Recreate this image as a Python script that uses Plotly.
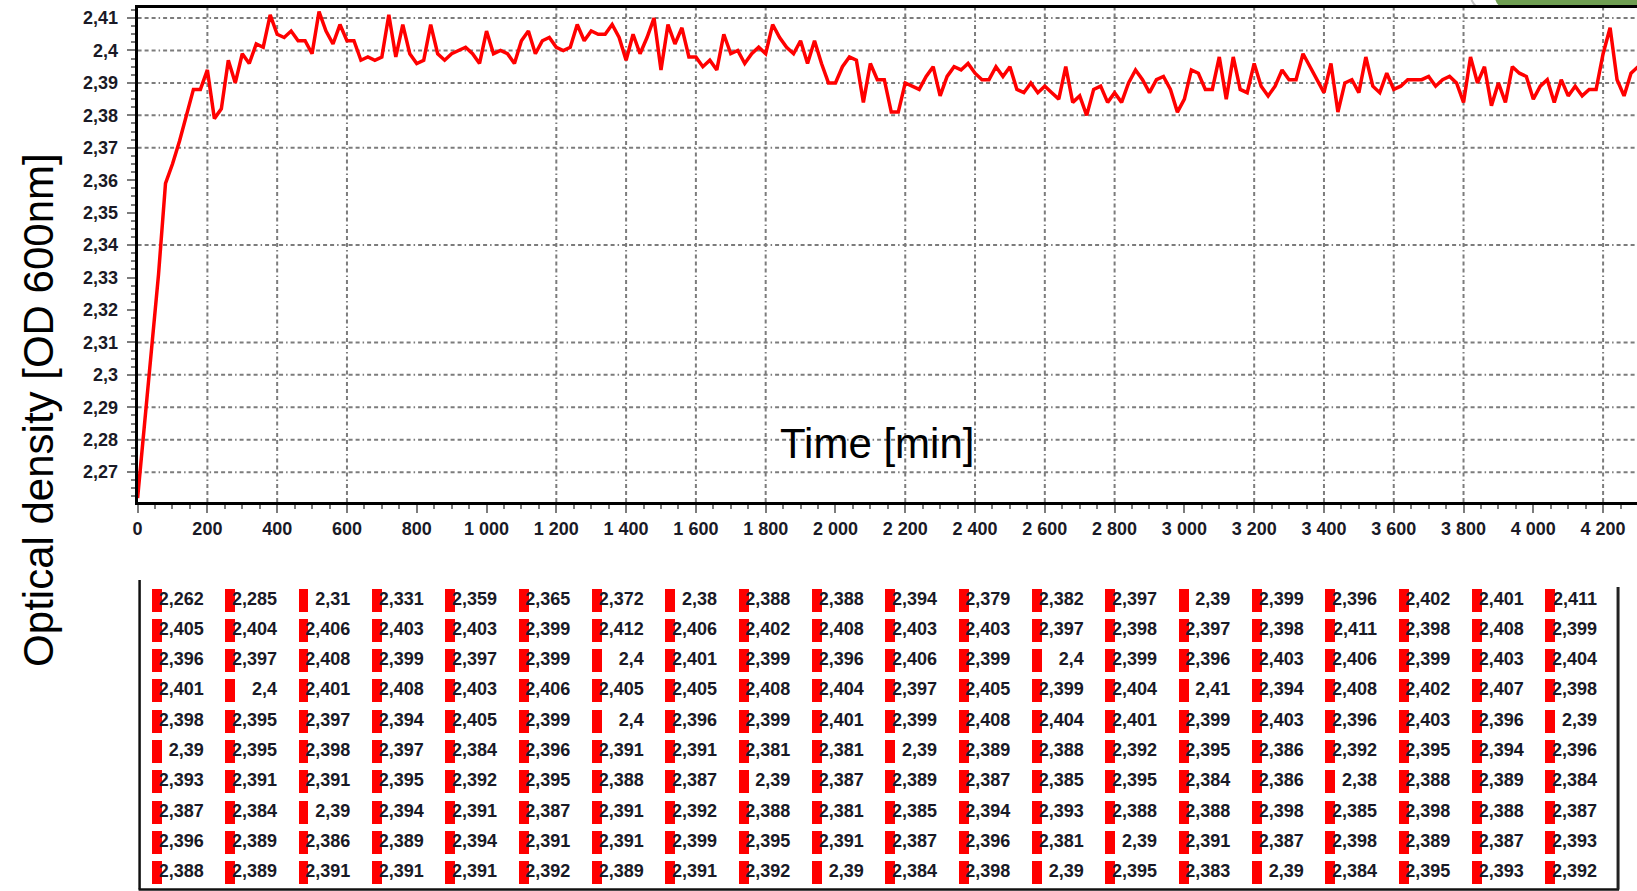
import plotly.graph_objects as go

# Optical density readings (OD 600 nm), one reading every 20 min.
# Listed row by row as in the value table (10 rows x 20 columns).
od_row_01 = [2.262, 2.285, 2.31, 2.331, 2.359, 2.365, 2.372, 2.38, 2.388, 2.388,
             2.394, 2.379, 2.382, 2.397, 2.39, 2.399, 2.396, 2.402, 2.401, 2.411]
od_row_02 = [2.405, 2.404, 2.406, 2.403, 2.403, 2.399, 2.412, 2.406, 2.402, 2.408,
             2.403, 2.403, 2.397, 2.398, 2.397, 2.398, 2.411, 2.398, 2.408, 2.399]
od_row_03 = [2.396, 2.397, 2.408, 2.399, 2.397, 2.399, 2.4, 2.401, 2.399, 2.396,
             2.406, 2.399, 2.4, 2.399, 2.396, 2.403, 2.406, 2.399, 2.403, 2.404]
od_row_04 = [2.401, 2.4, 2.401, 2.408, 2.403, 2.406, 2.405, 2.405, 2.408, 2.404,
             2.397, 2.405, 2.399, 2.404, 2.41, 2.394, 2.408, 2.402, 2.407, 2.398]
od_row_05 = [2.398, 2.395, 2.397, 2.394, 2.405, 2.399, 2.4, 2.396, 2.399, 2.401,
             2.399, 2.408, 2.404, 2.401, 2.399, 2.403, 2.396, 2.403, 2.396, 2.39]
od_row_06 = [2.39, 2.395, 2.398, 2.397, 2.384, 2.396, 2.391, 2.391, 2.381, 2.381,
             2.39, 2.389, 2.388, 2.392, 2.395, 2.386, 2.392, 2.395, 2.394, 2.396]
od_row_07 = [2.393, 2.391, 2.391, 2.395, 2.392, 2.395, 2.388, 2.387, 2.39, 2.387,
             2.389, 2.387, 2.385, 2.395, 2.384, 2.386, 2.38, 2.388, 2.389, 2.384]
od_row_08 = [2.387, 2.384, 2.39, 2.394, 2.391, 2.387, 2.391, 2.392, 2.388, 2.381,
             2.385, 2.394, 2.393, 2.388, 2.388, 2.398, 2.385, 2.398, 2.388, 2.387]
od_row_09 = [2.396, 2.389, 2.386, 2.389, 2.394, 2.391, 2.391, 2.399, 2.395, 2.391,
             2.387, 2.396, 2.381, 2.39, 2.391, 2.387, 2.398, 2.389, 2.387, 2.393]
od_row_10 = [2.388, 2.389, 2.391, 2.391, 2.391, 2.392, 2.389, 2.391, 2.392, 2.39,
             2.384, 2.398, 2.39, 2.395, 2.383, 2.39, 2.384, 2.395, 2.393, 2.392]
table_rows = [od_row_01, od_row_02, od_row_03, od_row_04, od_row_05,
              od_row_06, od_row_07, od_row_08, od_row_09, od_row_10]

# Readings from 4000 min onward (beyond the listed rows)
od_tail = [2.385, 2.389, 2.391, 2.384, 2.391, 2.386, 2.389, 2.386, 2.388, 2.388,
           2.399, 2.407, 2.391, 2.386, 2.393, 2.395]

step_min = 20

# Dotted grid positions
grid_x = [200, 400, 600, 1200, 1400, 1600, 1800, 2200, 2400, 2600, 2800,
          3200, 3400, 3600, 3800, 4200]
grid_y = [2.27, 2.28, 2.29, 2.30, 2.31, 2.34, 2.37, 2.38, 2.39, 2.40, 2.41]

# ---------------------------------------------------------------- layout
W, H = 1637, 891
PL, PR, PT, PB = 133, 1637, 8, 502          # plot area in pixels
X_RANGE = [0, (PR - PL) / 0.35]
Y_RANGE = [2.2608, 2.4131]

# table area and cell geometry (pixels)
TABLE_TOP = 560
CELL_X0, CELL_DX = 147.3, 73.56              # left of first red mark, column pitch
CELL_Y0, CELL_DY = 600.0, 30.33              # centre of first row, row pitch
MARK_W, MARK_H = 10.0, 23.0
TEXT_RIGHT = 52.0

FONT = "Liberation Sans, Arial, sans-serif"
GRID_COLOR = "#7c7c7c"
GRID_DASH = "4px,3px,4px,3px,4px,3px,1.5px,3px"


def px(x):
    return x / W


def py(y):
    return 1 - y / H


series = [v for row in table_rows for v in row] + od_tail
times = [i * step_min for i in range(len(series))]

fig = go.Figure()

# main curve
fig.add_trace(go.Scatter(
    x=times, y=series, mode="lines",
    line=dict(color="#ff0000", width=3.5),
    xaxis="x", yaxis="y", showlegend=False, hoverinfo="x+y",
))

# value table: text first, red markers on top
cols, rows, labels = [], [], []
for r, row in enumerate(table_rows):
    for c, v in enumerate(row):
        cols.append(c)
        rows.append(r)
        labels.append(f"{v:g}".replace(".", ","))

fig.add_trace(go.Scatter(
    x=[c + TEXT_RIGHT / CELL_DX for c in cols], y=rows, text=labels,
    mode="text", textposition="middle left",
    textfont=dict(family=FONT, size=18, color="#1a1a26", weight="bold"),
    xaxis="x2", yaxis="y2", showlegend=False, hoverinfo="skip",
))
fig.add_trace(go.Bar(
    x=[c + MARK_W / CELL_DX / 2 for c in cols],
    y=[MARK_H / CELL_DY] * len(cols),
    base=[r - MARK_H / CELL_DY / 2 for r in rows],
    width=MARK_W / CELL_DX,
    marker=dict(color="#ff0000", line=dict(width=0)),
    xaxis="x2", yaxis="y2", showlegend=False, hoverinfo="skip",
))

shapes = []
for gx in grid_x:
    shapes.append(dict(type="line", xref="x", yref="paper", x0=gx, x1=gx,
                       y0=py(PB), y1=py(PT), layer="below",
                       line=dict(color=GRID_COLOR, width=2, dash=GRID_DASH)))
for gy in grid_y:
    shapes.append(dict(type="line", xref="paper", yref="y", x0=px(PL), x1=1,
                       y0=gy, y1=gy, layer="below",
                       line=dict(color=GRID_COLOR, width=2, dash=GRID_DASH)))

# table frame
frame = dict(color="#111111", width=2.5)
shapes += [
    dict(type="line", xref="paper", yref="paper", x0=px(135), x1=px(135),
         y0=py(580), y1=py(889.5), line=frame),
    dict(type="line", xref="paper", yref="paper", x0=px(134), x1=px(1619),
         y0=py(889.5), y1=py(889.5), line=frame),
    dict(type="line", xref="paper", yref="paper", x0=px(1618), x1=px(1618),
         y0=py(587), y1=py(889.5), line=dict(color="#222222", width=3)),
]

# green tab peeking in at the top right, with a faint outline arc
shapes.append(dict(
    type="path", xref="paper", yref="paper", layer="below",
    path=(f"M {px(1495)},{py(0)} L {px(1637)},{py(0)} L {px(1637)},{py(7)} "
          f"L {px(1502)},{py(7)} Q {px(1497)},{py(6)} {px(1495)},{py(0)} Z"),
    fillcolor="#6f9e52", line=dict(width=0),
))
shapes.append(dict(
    type="path", xref="paper", yref="paper", layer="below",
    path=f"M {px(1471)},{py(0)} Q {px(1473)},{py(4)} {px(1476)},{py(7)}",
    line=dict(color="#c4c4c4", width=2),
))

annotations = [
    dict(text="Time [min]", xref="paper", yref="paper", x=px(875), y=py(444),
         xanchor="center", yanchor="middle", showarrow=False,
         font=dict(family=FONT, size=42, color="#000000")),
    dict(text="Optical density [OD 600nm]", xref="paper", yref="paper",
         x=px(33), y=py(410), xanchor="center", yanchor="middle",
         textangle=-90, showarrow=False,
         font=dict(family=FONT, size=42, color="#000000")),
]

tick_font = dict(family=FONT, size=18, color="#1a1a26", weight="bold")

fig.update_layout(
    width=W, height=H,
    margin=dict(l=0, r=0, t=0, b=0),
    paper_bgcolor="white", plot_bgcolor="rgba(0,0,0,0)",
    separators=", ",
    showlegend=False,
    bargap=0,
    xaxis=dict(
        domain=[px(PL), 1], range=X_RANGE, anchor="y",
        showgrid=False, zeroline=False,
        showline=True, linecolor="#000000", linewidth=3, mirror=True,
        tickmode="linear", tick0=0, dtick=200, tickformat=",d",
        ticks="outside", ticklen=8, tickwidth=2, tickcolor=GRID_COLOR,
        ticklabelstandoff=0,
        minor=dict(dtick=50, ticks="outside", ticklen=4, tickwidth=2,
                   tickcolor=GRID_COLOR, showgrid=False),
        tickfont=tick_font,
    ),
    yaxis=dict(
        domain=[py(PB), py(PT)], range=Y_RANGE, anchor="x",
        showgrid=False, zeroline=False,
        showline=True, linecolor="#000000", linewidth=3, mirror=False,
        tickmode="linear", tick0=2.27, dtick=0.01, tickformat=".2~f",
        ticks="outside", ticklen=8, tickwidth=2, tickcolor=GRID_COLOR,
        ticklabelstandoff=5,
        minor=dict(dtick=0.0025, ticks="outside", ticklen=4, tickwidth=2,
                   tickcolor=GRID_COLOR, showgrid=False),
        tickfont=tick_font,
    ),
    xaxis2=dict(
        domain=[0, 1], anchor="y2", visible=False, fixedrange=True,
        range=[(0 - CELL_X0) / CELL_DX, (W - CELL_X0) / CELL_DX],
    ),
    yaxis2=dict(
        domain=[0, py(TABLE_TOP)], anchor="x2", visible=False, fixedrange=True,
        range=[(H - CELL_Y0) / CELL_DY, (TABLE_TOP - CELL_Y0) / CELL_DY],
    ),
    shapes=shapes,
    annotations=annotations,
)

fig.write_html("out.html")
